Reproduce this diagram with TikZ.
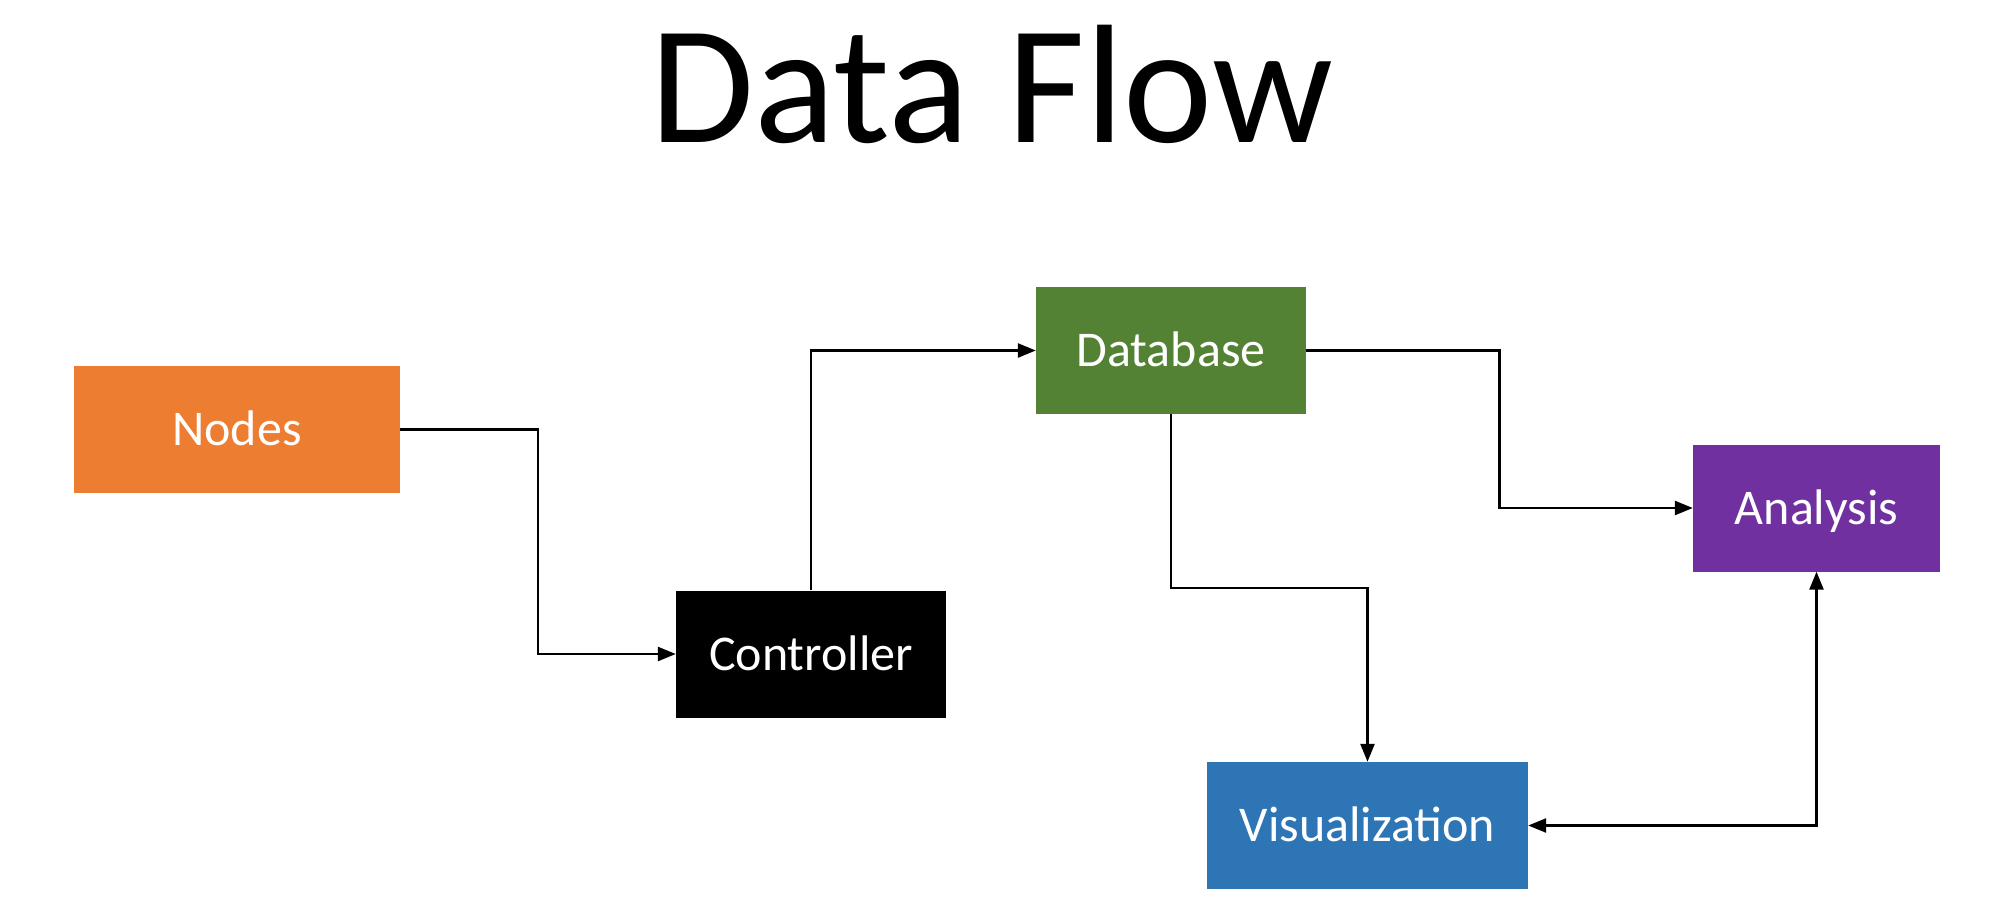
\documentclass[tikz,border=0pt]{standalone}
\usepackage{fontspec}
\setmainfont{Carlito}
\usepackage{xcolor}
\usepackage{tikz}
\usetikzlibrary{arrows.meta,positioning,calc}

\definecolor{nodeorange}{HTML}{ED7D31}
\definecolor{dbgreen}{HTML}{548235}
\definecolor{anapurple}{HTML}{7030A0}
\definecolor{visblue}{HTML}{2E75B6}

\begin{document}
\begin{tikzpicture}[x=1pt,y=-1pt,
    box/.style={rectangle,inner sep=0pt,minimum height=127pt,text=white,
      font=\fontsize{50}{56}\selectfont,text height=32pt,text depth=0pt},
    flow/.style={line width=2.5pt,-{Triangle[length=18pt,width=14pt]}}]
    \useasboundingbox (0,0) rectangle (1992,920);
    \node[anchor=base,font=\fontsize{169}{180}\selectfont] (title) at (992,143) {Data Flow};
    \node[box,fill=nodeorange,minimum width=326pt] (nodes) at (237,429.5) {Nodes};
    \node[box,fill=black,minimum width=270pt] (ctrl) at (811,654) {Controller};
    \node[box,fill=dbgreen,minimum width=270pt] (db) at (1171,350.5) {Database};
    \node[box,fill=anapurple,minimum width=247pt] (ana) at (1816.5,508) {Analysis};
    \node[box,fill=visblue,minimum width=321pt] (vis) at (1367.5,825.5) {Visualization};
    % connectors
    \draw[flow] (nodes.east) -| ($(nodes.east)!.5!(ctrl.west)$) |- (ctrl.west);
    \draw[flow] (ctrl.north) |- (db.west);
    \draw[flow] (db.east) -| ($(db.east)!.5!(ana.west)$) |- (ana.west);
    \draw[flow] (db.south) |- ($(db.south)!.5!(vis.north)$) -| (vis.north);
    \draw[flow,{Triangle[length=18pt,width=14pt]}-{Triangle[length=18pt,width=14pt]}] (vis.east) -| (ana.south);
\end{tikzpicture}
\end{document}
